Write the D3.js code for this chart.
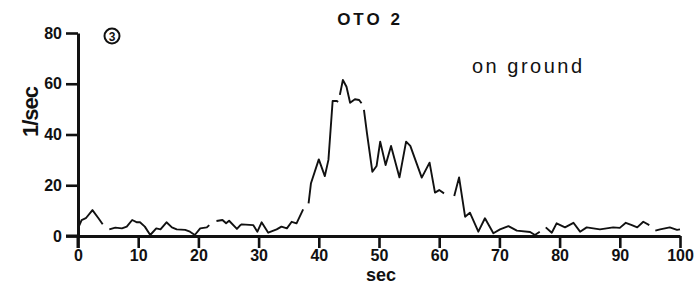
<!DOCTYPE html>
<html>
<head>
<meta charset="utf-8">
<title>OTO 2</title>
<script src="https://d3js.org/d3.v7.min.js"></script>
<style>
    body { margin: 0; background: #fff; }
    text { font-family: "Liberation Sans", Arial, sans-serif; fill: #111; }
    .tick text { font-weight: bold; font-size: 16px; }
</style>
</head>
<body>
<div id="chart"></div>
<script>
    // Dataset (null = gap in the trace)
    const timeSec = [0, 0.6, 1.3, 2.4, 3.4, 4.1, null,
        5.2, 6.2, 7.3, 8.1, 9.0, 9.8, 10.3, 11.1, 12.0, 13.0, 13.7, 14.7, 15.6, 16.4, 17.8, 18.6, 19.4, 20.3, 21.4, 21.8, null,
        23.0, 24.0, 24.6, 25.1, 26.4, 26.9, 27.2, 29.1, 29.8, 30.5, 31.6, 33.0, 33.8, 34.7, 35.5, 36.3, 37.4, null,
        38.3, 38.7, 40.0, 41.0, 41.6, 42.3, 43.0, 43.2, null,
        43.5, 44.0, 44.6, 45.2, 46.0, 46.7, 47.1, null,
        47.5, 48.0, 48.9, 49.6, 50.2, 51.1, 52.0, 53.4, 54.5, 55.2, 57.1, 58.4, 59.3, 60.0, 60.8, null,
        62.5, 63.3, 64.3, 65.1, 66.5, 67.6, 69.0, 70.1, 71.5, 72.9, 75.1, 75.9, 76.7, null,
        77.7, 78.7, 79.5, 80.9, 82.3, 83.4, 84.5, 86.7, 88.9, 90.0, 91.0, 92.0, 92.9, 93.9, 94.9, null,
        95.9, 96.7, 98.3, 99.5, 100];
    const rate = [3.0, 6.3, 7.0, 10.2, 7.0, 4.6, null,
        2.6, 3.3, 3.0, 3.7, 6.3, 5.4, 5.4, 3.7, 0.4, 3.0, 2.6, 5.4, 3.4, 2.6, 2.4, 1.7, 0.4, 3.0, 3.4, 4.3, null,
        5.9, 6.3, 5.0, 6.0, 2.8, 4.1, 4.6, 4.3, 1.7, 5.4, 1.3, 2.6, 3.7, 3.0, 5.6, 5.0, 10.5, null,
        12.9, 20.8, 30.2, 23.6, 30.0, 53.2, 53.2, 52.8, null,
        55.6, 61.5, 58.8, 52.5, 53.9, 53.6, 52.3, null,
        49.7, 40.5, 25.3, 27.6, 37.2, 28.0, 35.5, 23.1, 37.2, 35.5, 23.0, 28.9, 17.1, 18.1, 16.8, null,
        15.8, 23.1, 7.6, 9.2, 1.7, 7.0, 1.1, 2.6, 3.9, 2.1, 1.6, 0.4, 1.7, null,
        3.4, 1.3, 5.0, 3.4, 5.2, 1.7, 3.4, 2.6, 3.4, 3.2, 5.2, 4.3, 3.4, 5.6, 4.3, null,
        2.1, 2.6, 3.4, 2.4, 2.6];
    const xTicks = [0, 10, 20, 30, 40, 50, 60, 70, 80, 90, 100];
    const yTicks = [0, 20, 40, 60, 80];

    const points = timeSec.map((t, i) => ({ t: t, v: rate[i] }));

    const width = 700, height = 287;
    const svg = d3.select("#chart").append("svg")
        .attr("width", width)
        .attr("height", height);

    // Scales
    const x = d3.scaleLinear().domain([0, 100]).range([78, 680]);
    const y = d3.scaleLinear().domain([0, 80]).range([236, 33]);

    // Trace
    const line = d3.line()
        .defined(d => d.v !== null)
        .x(d => x(d.t))
        .y(d => y(d.v));

    svg.append("path")
        .datum(points)
        .attr("d", line)
        .attr("fill", "none")
        .attr("stroke", "#111")
        .attr("stroke-width", 1.9)
        .attr("stroke-linejoin", "round");

    // Axes
    const xAxis = svg.append("g")
        .attr("transform", "translate(0," + y(0) + ")")
        .call(d3.axisBottom(x).tickValues(xTicks).tickSize(12).tickSizeOuter(0).tickPadding(2));

    const yAxis = svg.append("g")
        .attr("transform", "translate(" + x(0) + ",0)")
        .call(d3.axisLeft(y).tickValues(yTicks).tickSize(12).tickSizeOuter(0).tickPadding(4));

    [xAxis, yAxis].forEach(g => {
        g.selectAll("path, line").attr("stroke", "#111").attr("stroke-width", 2.6);
        g.select(".domain").attr("stroke-width", 3);
    });

    // axis extensions past the origin
    svg.append("line")
        .attr("x1", x(0) - 12).attr("x2", x(0))
        .attr("y1", y(0)).attr("y2", y(0))
        .attr("stroke", "#111").attr("stroke-width", 3);
    svg.append("line")
        .attr("x1", x(0)).attr("x2", x(0))
        .attr("y1", y(0)).attr("y2", y(0) + 12)
        .attr("stroke", "#111").attr("stroke-width", 3);

    // Titles and labels
    svg.append("text")
        .attr("x", 381).attr("y", 281)
        .attr("text-anchor", "middle")
        .style("font-size", "18px")
        .style("font-weight", "bold")
        .text("sec");

    svg.append("text")
        .attr("transform", "translate(38,112) rotate(-90)")
        .attr("text-anchor", "middle")
        .style("font-size", "22px")
        .style("font-weight", "bold")
        .style("letter-spacing", "-1px")
        .text("1/sec");

    svg.append("text")
        .attr("x", 370).attr("y", 25)
        .attr("text-anchor", "middle")
        .style("font-size", "17px")
        .style("font-weight", "bold")
        .style("letter-spacing", "3px")
        .text("OTO 2");

    svg.append("text")
        .attr("x", 472).attr("y", 73)
        .style("font-size", "20px")
        .style("letter-spacing", "2.5px")
        .text("on ground");

    // circled panel number
    svg.append("circle")
        .attr("cx", 112).attr("cy", 36).attr("r", 7.5)
        .attr("fill", "none").attr("stroke", "#111").attr("stroke-width", 2);
    svg.append("text")
        .attr("x", 112).attr("y", 40.5)
        .attr("text-anchor", "middle")
        .style("font-size", "12px")
        .style("font-weight", "bold")
        .text("3");
</script>
</body>
</html>
